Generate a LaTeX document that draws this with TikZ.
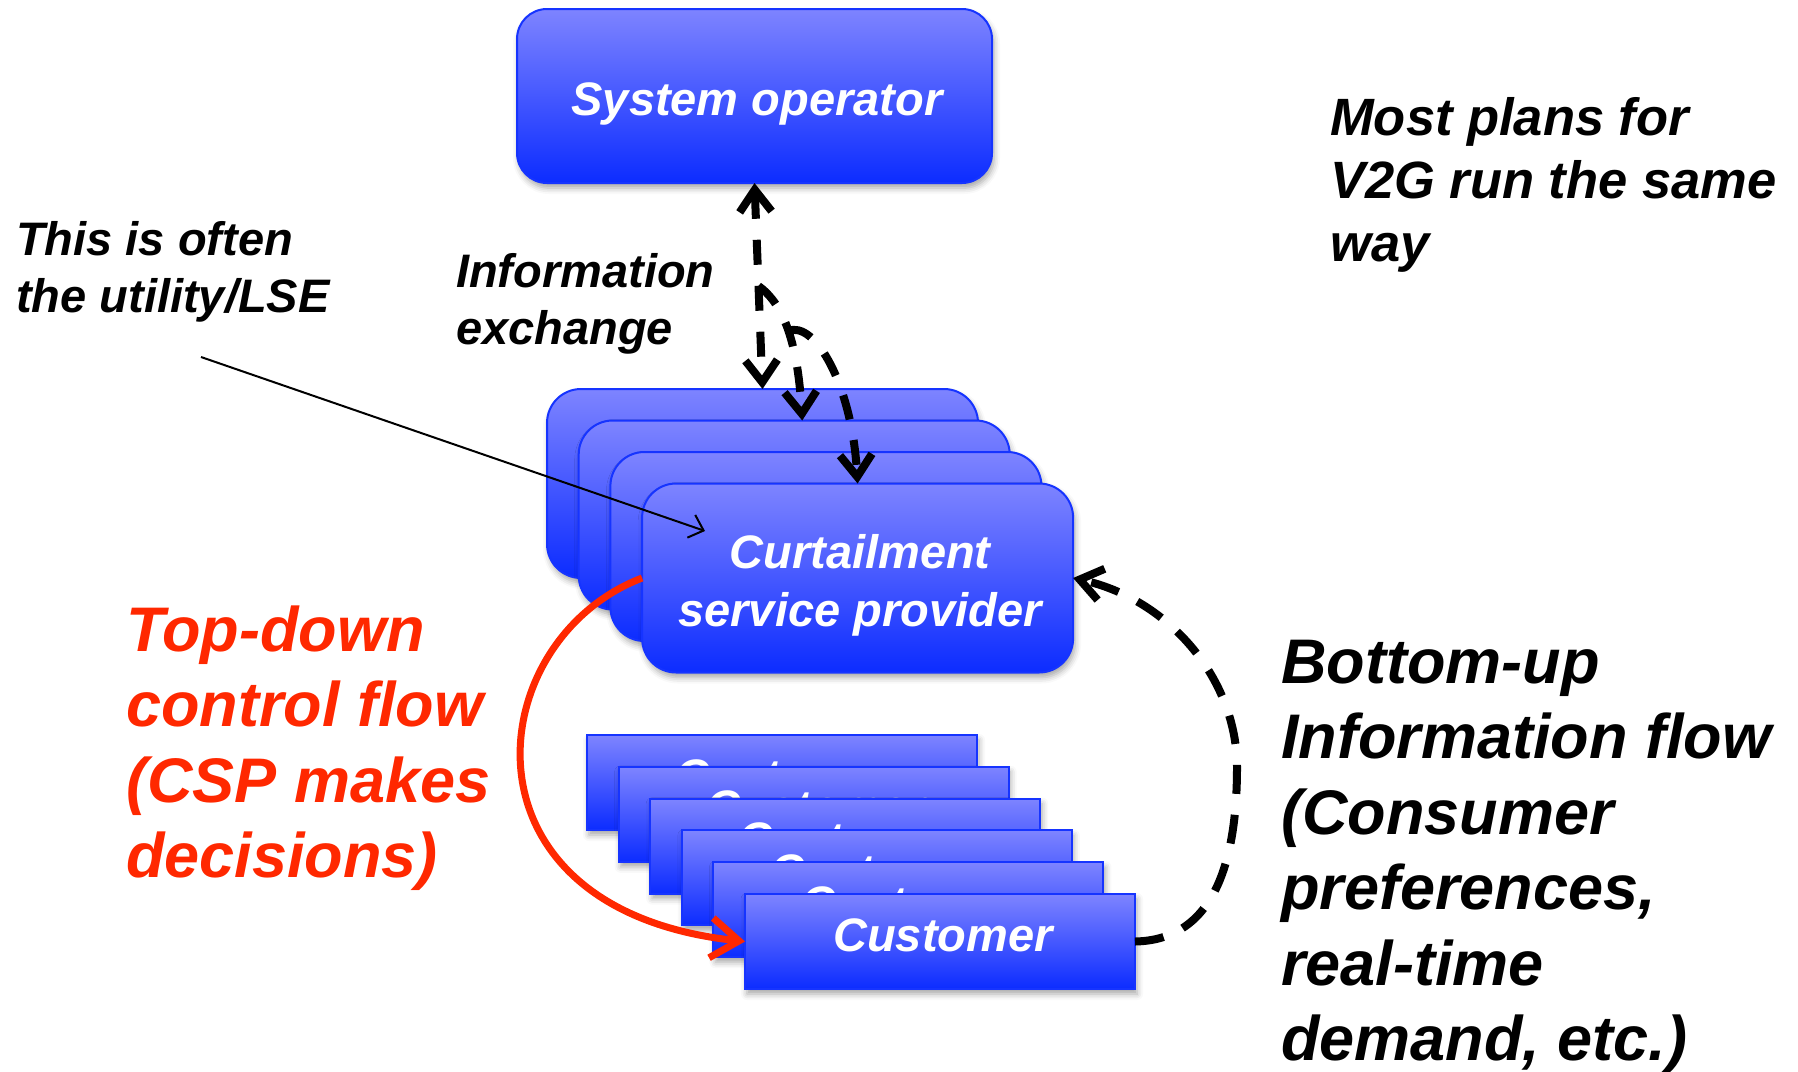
\documentclass[tikz,border=0pt]{standalone}
\usepackage{fontspec}
\setmainfont{Liberation Sans}
\usetikzlibrary{arrows.meta,shadows.blur,calc}

\definecolor{boxtop}{RGB}{126,132,255}
\definecolor{boxbot}{RGB}{12,44,255}
\definecolor{boxedge}{RGB}{22,52,255}
\definecolor{ctrlred}{RGB}{255,40,0}

\begin{document}
\begin{tikzpicture}[x=1pt,y=-1pt,
  panel/.style={draw=boxedge, line width=2pt, top color=boxtop, bottom color=boxbot,
    inner sep=0pt, outer sep=0pt,
    blur shadow={shadow xshift=2pt, shadow yshift=-5pt, shadow blur radius=6pt, shadow opacity=35}},
  roundpanel/.style={panel, rounded corners=34pt},
  boxlabel/.style={text=white, font=\fontsize{47}{58}\selectfont\bfseries\itshape,
    inner sep=0pt, align=center, anchor=base},
  note/.style={font=\fontsize{47}{57}\selectfont\bfseries\itshape, align=left,
    inner sep=0pt, anchor=base west},
  bignote/.style={font=\fontsize{63}{75.5}\selectfont\bfseries\itshape, align=left,
    inner sep=0pt, anchor=base west},
  flow/.style={line width=8pt, dash pattern=on 25pt off 21pt},
  loopflow/.style={line width=8pt, dash pattern=on 29pt off 21pt},
  barb/.tip={Straight Barb[length=22pt, width=32pt]},
  redbarb/.tip={Straight Barb[length=28pt, width=40pt]},
  thinbarb/.tip={Straight Barb[length=13pt, width=24pt]}
]
\useasboundingbox (0,0) rectangle (1798,1071);

% system operator
\node[roundpanel, rounded corners=30pt, minimum width=475pt, minimum height=174pt] (so) at (754.5,96) {};
\node[boxlabel] (solabel) at (757,115) {System operator};

% stack of curtailment service providers
\foreach \i in {1,...,4} {
  \node[roundpanel, minimum width=431pt, minimum height=189pt] (csp\i)
    at ({762.5+31.7*(\i-1)},{483.5+31.5*(\i-1)}) {};
}
% multi-line nodes: the base anchor sits on the last line
\node[boxlabel] (csplabel) at (860,626) {Curtailment\\service provider};

% stack of customers
\foreach \i in {1,...,6} {
  \node[panel, minimum width=390pt, minimum height=95pt] (cust\i)
    at ({782+31.6*(\i-1)},{782.5+31.8*(\i-1)}) {};
  \node[boxlabel] (custlabel\i) at ({785+31.6*(\i-1)},{792+31.8*(\i-1)}) {Customer};
}

% side notes
\node[note] (util) at (16,312) {This is often\\the utility/LSE};
\node[note] (info) at (456,344) {Information\\exchange};
\node[note, font=\fontsize{52.5}{63}\selectfont\bfseries\itshape] (v2g) at (1330,261)
  {Most plans for\\V2G run the same\\way};
\node[bignote, text=ctrlred] (topdown) at (126,877.5)
  {Top-down\\control flow\\(CSP makes\\decisions)};
\node[bignote] (bottomup) at (1281,1060.5)
  {Bottom-up\\Information flow\\(Consumer\\preferences,\\real-time\\demand, etc.)};

% information exchange between operator and providers
\draw[flow, barb-barb] (so.south) -- (csp1.north);
\coordinate (bA) at ($(so.south)!0.5!(csp1.north)$);
\coordinate (bB) at (788,331);
\draw[flow, -barb] (bA) .. controls (778,300) and (797,330) .. ([xshift=8pt]csp2.north);
\draw[flow, -barb] (bB) .. controls (815,320) and (852,385) .. (csp4.north);

% pointer from the utility note
\coordinate (ptrS) at (201,357);
\coordinate (ptrE) at (705,531);
\draw[line width=2pt, -thinbarb] (ptrS) -- (ptrE);

% top-down control
\draw[ctrlred, line width=7pt, -redbarb] (csp4.west) .. controls (480,640) and (450,910) .. (cust6.west);

% bottom-up information
\draw[loopflow, -barb] (cust6.east) .. controls (1215,940) and (1237,860) .. (1237,767)
  .. controls (1237,680) and (1170,600) .. (csp4.east);
\end{tikzpicture}
\end{document}
